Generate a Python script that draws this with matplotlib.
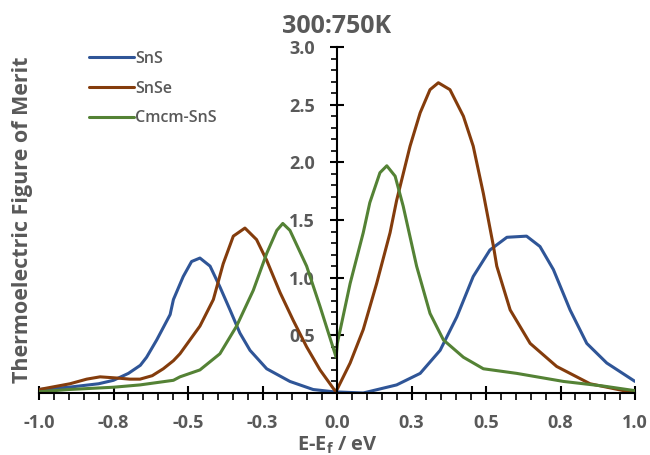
import matplotlib
matplotlib.use("Agg")
import matplotlib.pyplot as plt
from matplotlib.ticker import MultipleLocator, FixedLocator, FixedFormatter

# ---- data ----
sns_x = [-1.0, -0.9, -0.8, -0.75, -0.70, -0.66, -0.639, -0.605, -0.56, -0.549, -0.516, -0.488,
         -0.46, -0.426, -0.393, -0.359, -0.326, -0.292, -0.236, -0.158, -0.08, -0.01,
         0.088, 0.2, 0.279, 0.346, 0.402, 0.457, 0.513, 0.57, 0.636, 0.681, 0.726,
         0.782, 0.838, 0.905, 1.0]
sns_y = [0.03, 0.05, 0.08, 0.11, 0.17, 0.24, 0.31, 0.46, 0.68, 0.81, 1.01, 1.14,
         1.17, 1.10, 0.92, 0.72, 0.52, 0.37, 0.21, 0.10, 0.03, 0.01,
         0.0, 0.07, 0.17, 0.37, 0.66, 1.01, 1.24, 1.35, 1.36, 1.27, 1.07,
         0.72, 0.43, 0.26, 0.10]

snse_x = [-1.0, -0.896, -0.84, -0.795, -0.74, -0.695, -0.661, -0.62, -0.583, -0.549, -0.527,
          -0.46, -0.415, -0.382, -0.348, -0.309, -0.27, -0.236, -0.191, -0.147, -0.102,
          -0.057, -0.007, 0.0, 0.044, 0.088, 0.133, 0.178, 0.2, 0.245, 0.279, 0.312, 0.34,
          0.379, 0.424, 0.457, 0.491, 0.525, 0.536, 0.581, 0.648, 0.737, 0.849, 1.0]
snse_y = [0.03, 0.08, 0.12, 0.14, 0.13, 0.12, 0.12, 0.15, 0.21, 0.28, 0.34,
          0.58, 0.81, 1.12, 1.36, 1.43, 1.33, 1.15, 0.87, 0.63, 0.40,
          0.20, 0.02, 0.03, 0.26, 0.55, 0.95, 1.39, 1.67, 2.14, 2.43, 2.63, 2.69,
          2.63, 2.40, 2.14, 1.73, 1.27, 1.10, 0.72, 0.43, 0.23, 0.08, 0.0]

cmcm_x = [-1.0, -0.9, -0.75, -0.661, -0.549, -0.527, -0.46, -0.393, -0.337, -0.281, -0.236,
          -0.202, -0.182, -0.158, -0.102, -0.057, -0.003, 0.001, 0.044, 0.088, 0.11,
          0.144, 0.167, 0.195, 0.222, 0.267, 0.312, 0.357, 0.424, 0.491, 0.603, 0.76,
          0.894, 1.0]
cmcm_y = [0.01, 0.03, 0.05, 0.07, 0.11, 0.14, 0.20, 0.34, 0.58, 0.89, 1.21,
          1.41, 1.47, 1.41, 1.10, 0.75, 0.31, 0.43, 0.95, 1.39, 1.65,
          1.91, 1.97, 1.88, 1.62, 1.10, 0.69, 0.46, 0.31, 0.21, 0.17, 0.10,
          0.06, 0.02]

series = [("SnS", sns_x, sns_y, "#2F5597"),
          ("SnSe", snse_x, snse_y, "#843C0C"),
          ("Cmcm-SnS", cmcm_x, cmcm_y, "#548235")]

x_ticks = [-1.0, -0.75, -0.5, -0.25, 0.0, 0.25, 0.5, 0.75, 1.0]
x_labels = ["-1.0", "-0.8", "-0.5", "-0.3", "0.0", "0.3", "0.5", "0.8", "1.0"]
y_ticks = [0.5, 1.0, 1.5, 2.0, 2.5, 3.0]
y_labels = ["0.5", "1.0", "1.5", "2.0", "2.5", "3.0"]

gray = "#595959"
plt.rcParams["font.family"] = ["Open Sans", "DejaVu Sans"]

fig = plt.figure(figsize=(6.5, 4.55), dpi=100)
ax = fig.add_axes([0.06, 0.1363, 0.917, 0.7604])

for name, xs, ys, col in series:
    ax.plot(xs, ys, color=col, linewidth=2.2, label=name,
            solid_joinstyle="round", solid_capstyle="round")

ax.set_xlim(-1.0, 1.0)
ax.set_ylim(0, 3.0)

ax.spines["left"].set_position(("data", 0))
ax.spines["bottom"].set_position(("data", 0))
ax.spines["top"].set_visible(False)
ax.spines["right"].set_visible(False)
for s in ("left", "bottom"):
    ax.spines[s].set_linewidth(1.5)

ax.xaxis.set_major_locator(FixedLocator(x_ticks))
ax.xaxis.set_major_formatter(FixedFormatter(x_labels))
ax.xaxis.set_minor_locator(MultipleLocator(0.05))
ax.yaxis.set_major_locator(FixedLocator(y_ticks))
ax.yaxis.set_major_formatter(FixedFormatter(y_labels))
ax.yaxis.set_minor_locator(MultipleLocator(0.1))

ax.tick_params(axis="x", which="major", direction="inout", length=10, width=1.5,
               pad=10, labelsize=13, labelcolor=gray)
ax.tick_params(axis="x", which="minor", direction="out", length=5, width=1.2)
ax.tick_params(axis="y", which="major", direction="inout", length=10, width=1.5,
               pad=11, labelsize=13, labelcolor=gray)
ax.tick_params(axis="y", which="minor", direction="out", length=4.5, width=1.2)
for lab in ax.get_xticklabels() + ax.get_yticklabels():
    lab.set_fontweight("bold")

ax.set_title("300:750K", fontsize=18, fontweight="bold", color=gray, pad=10)
fig.text(0.5185, 0.022, r"E-E$_\mathregular{f}$ / eV", ha="center", va="center",
         fontsize=14.5, fontweight="bold", color=gray)
fig.text(0.034, 0.516, "Thermoelectric Figure of Merit", ha="center", va="center",
         rotation=90, fontsize=15.5, fontweight="bold", color=gray)

leg = ax.legend(loc="upper left", bbox_to_anchor=(0.06, 1.03), frameon=False,
                fontsize=11.5, handlelength=2.8, handletextpad=0.1, labelspacing=0.85,
                labelcolor=gray)
for t in leg.get_texts():
    t.set_fontweight("semibold")

fig.savefig("out.png", dpi=100)
